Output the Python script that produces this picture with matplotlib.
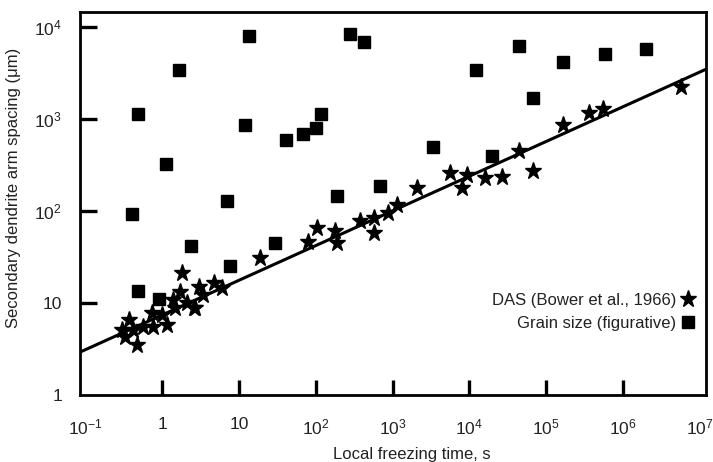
import matplotlib.pyplot as plt
import numpy as np
from matplotlib.lines import Line2D

plt.rcParams['font.family'] = ['Liberation Sans', 'DejaVu Sans']
plt.rcParams['mathtext.fontset'] = 'custom'
plt.rcParams['mathtext.rm'] = 'Liberation Sans'

# DAS data (Bower et al., 1966): local freezing time (s), arm spacing (um)
das_t = [0.30, 0.33, 0.365, 0.42, 0.47, 0.57, 0.73, 0.77, 0.99, 1.15,
         1.4, 1.48, 1.71, 1.8, 2.1, 2.56, 2.7, 2.97, 3.4, 4.66,
         6.0, 18.9, 80, 103, 178, 187, 380, 565, 565, 880,
         1140, 2070, 5600, 8000, 9300, 16000, 26500, 43600, 68000, 165000,
         355000, 546000, 5.6e6]
das_d = [5.1, 4.3, 6.5, 5.1, 3.5, 5.5, 7.7, 5.5, 7.4, 5.8,
         10.8, 8.75, 13.3, 21.4, 10.0, 8.8, 8.75, 15.0, 12.2, 16.4,
         14.4, 30.6, 46, 65, 60, 44.7, 77, 83, 57, 94,
         116, 176, 257, 176, 246, 227, 232, 452, 270, 860,
         1170, 1275, 2210]

# grain size (figurative)
grain_t = [0.41, 0.48, 1.13, 1.68, 6.95, 11.8, 13.6, 41.2, 67.8, 102,
           116, 188, 275, 418, 690, 3400, 19600, 12200, 44600, 67600,
           166000, 590000, 2.0e6, 0.487, 0.91, 2.37, 7.7, 29.6]
grain_d = [92, 1130, 325, 3350, 128, 860, 7960, 596, 687, 790,
           1133, 144, 8400, 6800, 184, 500, 390, 3350, 6200, 1700,
           4190, 5030, 5770, 13.4, 11.1, 41.7, 25.3, 44.5]

# fit line d = A * t^n
fit_A = 7.4
fit_n = 0.377

# ticks with marks, and edge labels without marks
xticks = [1, 10, 1e2, 1e3, 1e4, 1e5, 1e6]
xticklabels = ['1', '10', r'$\mathregular{10^{2}}$', r'$\mathregular{10^{3}}$',
               r'$\mathregular{10^{4}}$', r'$\mathregular{10^{5}}$',
               r'$\mathregular{10^{6}}$']
xedge = [1e-1, 1e7]
xedgelabels = [r'$\mathregular{10^{-1}}$', r'$\mathregular{10^{7}}$']
yticks = [10, 1e2, 1e3, 1e4]
yticklabels = ['10', r'$\mathregular{10^{2}}$', r'$\mathregular{10^{3}}$',
               r'$\mathregular{10^{4}}$']
yedge = [1]
yedgelabels = ['1']

txt = '#222222'
fig = plt.figure(figsize=(7.13, 4.62), dpi=100)
ax = fig.add_axes([0.1122, 0.145, 0.878, 0.829])

xmin, xmax = 10 ** -1.07, 10 ** 7.08
ax.set_xscale('log')
ax.set_yscale('log')
ax.set_xlim(xmin, xmax)
ax.set_ylim(1, 10 ** 4.16)

ax.set_xticks(xticks)
ax.set_xticklabels(xticklabels)
ax.set_xticks(xedge, minor=True)
ax.set_xticklabels(xedgelabels, minor=True)
ax.set_yticks(yticks)
ax.set_yticklabels(yticklabels)
ax.set_yticks(yedge, minor=True)
ax.set_yticklabels(yedgelabels, minor=True)

tl = np.array([xmin, xmax])
ax.plot(tl, fit_A * tl ** fit_n, color='black', lw=2.2, zorder=2)
ax.plot(grain_t, grain_d, 's', color='black', ms=8.5, mew=1, zorder=3)
ax.plot(das_t, das_d, '*', color='black', ms=12.5, mew=1, zorder=3)

# inward tick marks drawn along the axes at the tick positions
ax.vlines(xticks, 0, 0.04, transform=ax.get_xaxis_transform(),
          color='black', lw=2.4, clip_on=False, zorder=4)
ax.hlines(yticks, 0, 0.027, transform=ax.get_yaxis_transform(),
          color='black', lw=2.4, clip_on=False, zorder=4)

for s in ax.spines.values():
    s.set_linewidth(2.0)
    s.set_zorder(5)

ax.set_xlabel('Local freezing time, s', fontsize=12, color=txt)
ax.xaxis.set_label_coords(0.53, -0.135)
ax.set_ylabel('Secondary dendrite arm spacing (\u03bcm)', fontsize=12, color=txt)
ax.yaxis.set_label_coords(-0.095, 0.54)

handles = [Line2D([], [], ls='none', marker='*', color='black', ms=12.5),
           Line2D([], [], ls='none', marker='s', color='black', ms=8.5)]
ax.legend(handles, ['DAS (Bower et al., 1966)', 'Grain size (figurative)'],
          loc='upper right', bbox_to_anchor=(0.99, 0.285), frameon=False,
          markerfirst=False, fontsize=12, labelspacing=0.5,
          handlelength=0.6, handletextpad=0.4, borderaxespad=0,
          labelcolor=txt)

ax.tick_params(axis='both', which='both', direction='in', length=0)
ax.tick_params(axis='x', which='both', pad=16, labelsize=12.5, labelcolor=txt)
ax.tick_params(axis='y', which='both', pad=13, labelsize=12.5, labelcolor=txt)

fig.savefig('out.png', dpi=100)
